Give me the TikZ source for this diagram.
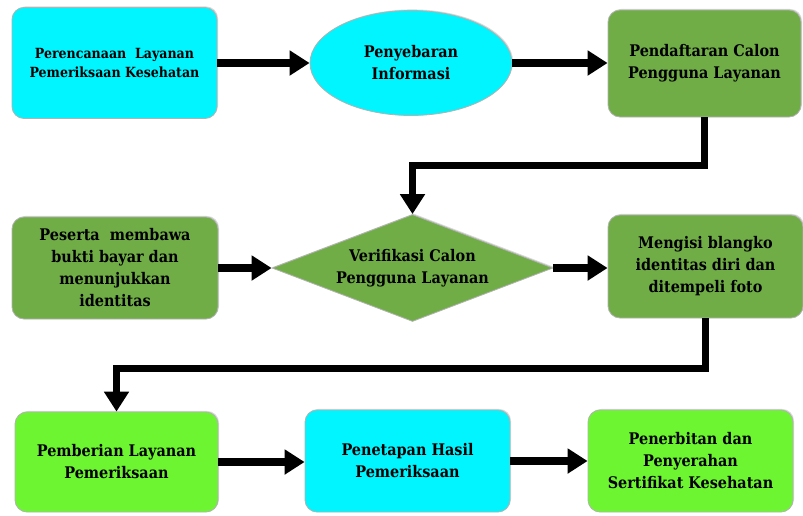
\documentclass[tikz,border=0pt]{standalone}
\usepackage{fontspec}
\setmainfont{DejaVu Serif Condensed}
\usetikzlibrary{shapes.geometric,arrows.meta,shadows}

\definecolor{cyanbox}{RGB}{0,245,255}
\definecolor{greenbox}{RGB}{112,173,71}
\definecolor{limebox}{RGB}{108,245,48}

\tikzset{every picture/.style={line width=0.75pt}}
\tikzset{
  procbox/.style={rectangle, rounded corners=9pt, draw=gray!60, line width=0.6pt, align=center,
    font=\bfseries\fontsize{12}{16.5}\selectfont,
    drop shadow={opacity=0.3, shadow xshift=0.8pt, shadow yshift=0.8pt}},
  flow/.style={line width=5.5pt, -{Triangle[length=15pt,width=18pt]}},
}

\begin{document}
\begin{tikzpicture}[x=0.75pt,y=0.75pt,yscale=-1,xscale=1]
    \useasboundingbox (0,0) rectangle (803,515);

    % baris atas
    \node [procbox, fill=cyanbox, minimum width=153.75pt, minimum height=83.25pt,
      font=\bfseries\fontsize{10.5}{14.5}\selectfont] (rencana) at (114.5,63) {Perencanaan \ Layanan\\Pemeriksaan Kesehatan};
    \node [procbox, shape=ellipse, inner sep=0pt, fill=cyanbox, minimum width=151.5pt, minimum height=78.75pt] (sebar) at (411,63) {Penyebaran\\Informasi};
    \node [procbox, fill=greenbox, minimum width=144.75pt, minimum height=80.25pt] (daftar) at (704.5,63.5) {Pendaftaran Calon\\Pengguna Layanan};

    % baris tengah
    \node [procbox, fill=greenbox, minimum width=154.5pt, minimum height=76.5pt] (bukti) at (115,268) {Peserta \ membawa\\bukti bayar dan\\menunjukkan\\identitas};
    \node [procbox, shape=diamond, aspect=2.6, inner sep=0pt, rounded corners=0pt, fill=greenbox, minimum width=210.75pt, minimum height=80.25pt] (verif) at (412.5,268) {Verifikasi Calon\\Pengguna Layanan};
    \node [procbox, fill=greenbox, minimum width=146.25pt, minimum height=77.25pt] (isi) at (705.5,266.5) {Mengisi blangko\\identitas diri dan\\ditempeli foto};

    % baris bawah
    \node [procbox, fill=limebox, minimum width=152.25pt, minimum height=75pt] (layanan) at (116.5,462) {Pemberian Layanan\\Pemeriksaan};
    \node [procbox, fill=cyanbox, minimum width=153.75pt, minimum height=76.5pt] (hasil) at (407.5,461) {Penetapan Hasil\\Pemeriksaan};
    \node [procbox, fill=limebox, minimum width=153.75pt, minimum height=76.5pt] (sertifikat) at (690.5,461) {Penerbitan dan\\Penyerahan\\Sertifikat Kesehatan};

    % panah
    \draw [flow] (rencana.east) -- (sebar.west);
    \draw [flow] (sebar.east) -- (sebar.east -| daftar.west);
    \draw [flow] (daftar.south) -- ++(0,48) -| (verif.north);
    \draw [flow] (bukti.east) -- (verif.west);
    \draw [flow] (verif.east) -- (verif.east -| isi.west);
    \draw [flow] (isi.south) -- ++(0,50) -| (layanan.north);
    \draw [flow] (layanan.east) -- (layanan.east -| hasil.west);
    \draw [flow] (hasil.east) -- (hasil.east -| sertifikat.west);
\end{tikzpicture}
\end{document}
